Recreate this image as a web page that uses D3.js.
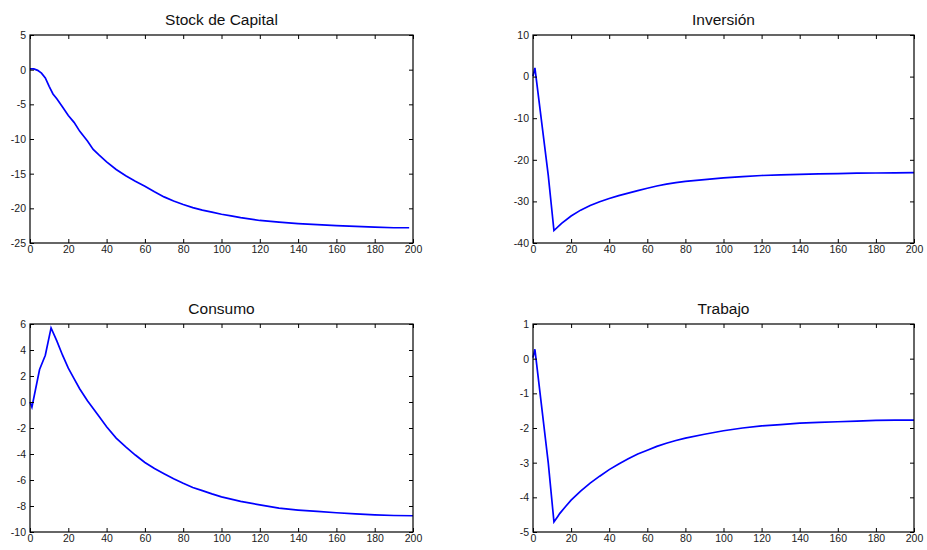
<!DOCTYPE html>
<html>
<head>
<meta charset="utf-8">
<script src="https://cdn.jsdelivr.net/npm/d3@7"></script>
<style>
  body { margin: 0; background: #fff; }
  svg { display: block; font-family: Arial, "Liberation Sans", sans-serif; }
</style>
</head>
<body>
<svg id="chart" width="927" height="550"></svg>
<script>
// data
var TITLES = ["Stock de Capital", "Inversión", "Consumo", "Trabajo"];
var X_TICKS = [0, 20, 40, 60, 80, 100, 120, 140, 160, 180, 200];

var capitalX = [0, 2, 4, 6, 8, 10, 12, 14, 17, 20, 23, 26, 30, 33, 36, 40, 45, 50, 55, 60, 65, 70, 75, 80, 85, 90, 95, 100, 105, 110, 120, 130, 140, 150, 160, 170, 180, 190, 198];
var capitalY = [0.1, 0.1, -0.1, -0.5, -1.2, -2.4, -3.5, -4.2, -5.4, -6.6, -7.6, -8.9, -10.3, -11.5, -12.3, -13.3, -14.4, -15.3, -16.1, -16.8, -17.6, -18.35, -18.95, -19.45, -19.9, -20.25, -20.55, -20.85, -21.1, -21.35, -21.75, -22.0, -22.2, -22.35, -22.5, -22.6, -22.7, -22.8, -22.8];

var inversionX = [0, 1, 8, 11, 15, 20, 25, 30, 35, 40, 45, 50, 55, 60, 65, 70, 75, 80, 90, 100, 110, 120, 130, 140, 150, 160, 170, 180, 190, 200];
var inversionY = [0.1, 2.1, -23.7, -37.0, -35.3, -33.5, -32.1, -31.0, -30.1, -29.3, -28.6, -28.0, -27.4, -26.85, -26.3, -25.85, -25.5, -25.2, -24.75, -24.35, -24.05, -23.78, -23.6, -23.5, -23.4, -23.3, -23.22, -23.17, -23.12, -23.1];

var consumoX = [0, 1, 5, 8, 11, 14, 17, 20, 23, 26, 30, 33, 36, 40, 45, 50, 55, 60, 65, 70, 75, 80, 85, 90, 95, 100, 110, 120, 130, 140, 150, 160, 170, 180, 190, 200];
var consumoY = [0.0, -0.4, 2.5, 3.6, 5.7, 4.7, 3.6, 2.6, 1.8, 1.0, 0.1, -0.5, -1.1, -1.9, -2.78, -3.45, -4.08, -4.65, -5.12, -5.52, -5.9, -6.25, -6.58, -6.82, -7.07, -7.3, -7.64, -7.92, -8.17, -8.31, -8.42, -8.52, -8.61, -8.68, -8.73, -8.75];

var trabajoX = [0, 1, 8, 11, 13, 14, 17, 20, 25, 30, 35, 40, 45, 50, 55, 60, 65, 70, 75, 80, 90, 100, 110, 120, 130, 140, 150, 160, 170, 180, 190, 200];
var trabajoY = [0.03, 0.27, -3.0, -4.71, -4.55, -4.47, -4.27, -4.08, -3.82, -3.59, -3.39, -3.2, -3.04, -2.89, -2.75, -2.64, -2.53, -2.44, -2.36, -2.29, -2.18, -2.08, -2.0, -1.94, -1.9, -1.86, -1.84, -1.82, -1.8, -1.78, -1.775, -1.77];

var Y_TICKS = [
    [-25, -20, -15, -10, -5, 0, 5],
    [-40, -30, -20, -10, 0, 10],
    [-10, -8, -6, -4, -2, 0, 2, 4, 6],
    [-5, -4, -3, -2, -1, 0, 1]
];
var SERIES_X = [capitalX, inversionX, consumoX, trabajoX];
var SERIES_Y = [capitalY, inversionY, consumoY, trabajoY];

// panel boxes
var COLS = [[30, 413], [533, 914]];
var ROWS = [[35, 243], [324, 532]];
var TICK = 4;

var svg = d3.select("#chart");

function drawPanel(i) {
    var col = COLS[i % 2], row = ROWS[Math.floor(i / 2)];
    var yt = Y_TICKS[i];

    var xScale = d3.scaleLinear()
        .domain([0, 200])
        .range(col);
    var yScale = d3.scaleLinear()
        .domain([yt[0], yt[yt.length - 1]])
        .range([row[1], row[0]]);

    var g = svg.append("g");

    var line = d3.line()
        .x(function(d) { return xScale(d[0]); })
        .y(function(d) { return yScale(d[1]); });

    var pts = SERIES_X[i].map(function(x, k) { return [x, SERIES_Y[i][k]]; });

    g.append("path")
        .datum(pts)
        .attr("fill", "none")
        .attr("stroke", "#0000ff")
        .attr("stroke-width", 1.7)
        .attr("stroke-linejoin", "miter")
        .attr("d", line);

    // axes, ticks pointing inward like matlab
    var axes = [
        [d3.axisBottom(xScale).tickValues(X_TICKS), "translate(0," + row[1] + ")", true, 3],
        [d3.axisTop(xScale).tickValues(X_TICKS), "translate(0," + row[0] + ")", false, 3],
        [d3.axisLeft(yScale).tickValues(yt), "translate(" + col[0] + ",0)", true, 4],
        [d3.axisRight(yScale).tickValues(yt), "translate(" + col[1] + ",0)", false, 4]
    ];
    axes.forEach(function(a) {
        var ax = a[0].tickSize(-TICK).tickPadding(a[3])
            .tickFormat(a[2] ? function(d) { return d3.format("d")(d).replace("−", "-"); } : "");
        var ag = g.append("g")
            .attr("transform", a[1])
            .call(ax);
        ag.select(".domain").remove();
        ag.selectAll("line").attr("stroke", "#000");
        ag.selectAll("text")
            .attr("fill", "#1a1a1a")
            .style("font-size", "10.5px");
    });

    g.append("rect")
        .attr("x", col[0])
        .attr("y", row[0])
        .attr("width", col[1] - col[0])
        .attr("height", row[1] - row[0])
        .attr("fill", "none")
        .attr("stroke", "#000")
        .attr("stroke-width", 1.2);

    g.append("text")
        .attr("x", (col[0] + col[1]) / 2)
        .attr("y", row[0] - 10)
        .attr("text-anchor", "middle")
        .attr("fill", "#111")
        .style("font-size", "15.5px")
        .text(TITLES[i]);
}

for (var i = 0; i < 4; i++) {
    drawPanel(i);
}
</script>
</body>
</html>
